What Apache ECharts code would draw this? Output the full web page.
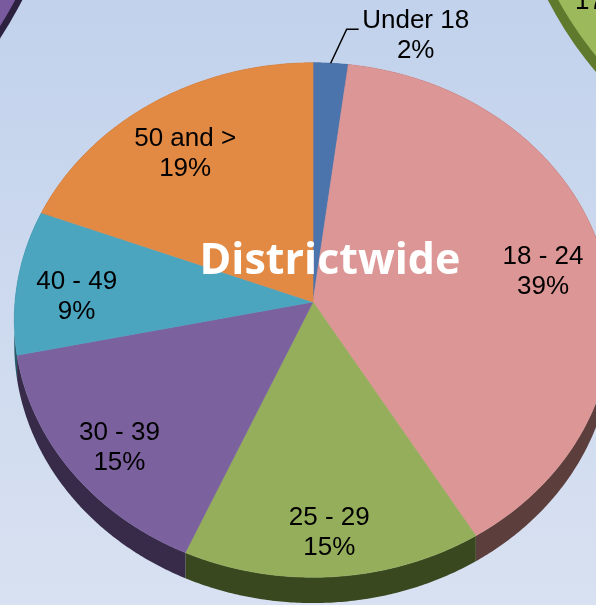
<!DOCTYPE html>
<html><head><meta charset="utf-8">
<script src="https://cdn.jsdelivr.net/npm/echarts@6/dist/echarts.min.js"></script>
<style>html,body{margin:0;padding:0;overflow:hidden;}#c{width:596px;height:605px;}</style>
</head><body><div id="c"></div>
<script>
// ---- data ----
const categories = ['Under 18', '18 - 24', '25 - 29', '30 - 39', '40 - 49', '50 and >'];
const percents = [2, 39, 15, 15, 9, 19];
const chartTitle = 'Districtwide';
const neighbourLabel = '17';

// ---- styles ----
const faceColors = ['#4a74ab', '#dc9695', '#95ae5b', '#7b619e', '#4ba5bf', '#e28a44'];
const sideColors = ['#2a4264', '#5c3f3d', '#3a4820', '#382b4a', '#265b69', '#7a4a22'];

// perspective projection of the pie disc
const P = { ax: 313, ay: 302, rx: 298, ry: 256, k: 0.07, j: 0, depth: 24 };
function rim(theta) {
  const t = theta * Math.PI / 180;
  const u = Math.sin(t), v = -Math.cos(t);
  const w = 1 - P.k * v + P.j * u;
  return [P.ax + P.rx * u / w, P.ay + P.ry * v / w, w];
}
const total = percents.reduce((a, b) => a + b, 0);
const starts = [], ends = [];
(function () { let c = 0; percents.forEach(v => { starts.push(c / total * 360); c += v; ends.push(c / total * 360); }); })();

function arcPts(i) {
  const a0 = starts[i], a1 = ends[i];
  const n = Math.max(4, Math.ceil((a1 - a0) * 2));
  const pts = [];
  for (let s = 0; s <= n; s++) pts.push(rim(a0 + (a1 - a0) * s / n));
  return pts;
}

const seriesData = percents.map((v, i) => ({ name: categories[i], value: v }));
const font = '"Liberation Sans", Arial, sans-serif';

const chart = echarts.init(document.getElementById('c'), null, { renderer: 'canvas' });
chart.setOption({
  animation: false,
  backgroundColor: {
    type: 'linear', x: 0, y: 0, x2: 0, y2: 1,
    colorStops: [{ offset: 0, color: '#c2d2ec' }, { offset: 1, color: '#d8e1f1' }]
  },
  graphic: [
    // neighbouring pie (top-left)
    { type: 'circle', x: -260, y: -220, scaleY: 1.233, shape: { cx: 0, cy: 0, r: 334 }, style: { fill: '#2d2140' }, z: 0 },
    { type: 'circle', x: -264, y: -226, scaleY: 1.233, shape: { cx: 0, cy: 0, r: 334 }, style: { fill: '#7a5a9f' }, z: 0 },
    // neighbouring pie (top-right)
    { type: 'circle', x: 800, y: -220, scaleY: 1.296, shape: { cx: 0, cy: 0, r: 304 }, style: { fill: '#5f792d' }, z: 0 },
    { type: 'circle', x: 805, y: -230, scaleY: 1.296, shape: { cx: 0, cy: 0, r: 304 }, style: { fill: '#9cba5c' }, z: 0 },
    { type: 'text', x: 575, y: 15, style: { text: neighbourLabel, font: '26px ' + font, fill: '#000', textAlign: 'left', textVerticalAlign: 'bottom' }, z: 1 },
    // title
    { type: 'text', x: 330, y: 262, z: 100,
      style: { text: chartTitle, fill: '#ffffff', font: 'bold 43px "Open Sans", sans-serif', textAlign: 'center', textVerticalAlign: 'middle' } }
  ],
  series: [
    { // side walls
      type: 'custom', coordinateSystem: 'none', z: 2, silent: true, data: seriesData,
      renderItem: function (params) {
        const i = params.dataIndex;
        const pts = arcPts(i);
        const top = pts.map(p => [p[0], p[1]]);
        const bot = pts.map(p => [p[0], p[1] + P.depth / p[2]]).reverse();
        return { type: 'polygon', shape: { points: top.concat(bot) }, style: { fill: sideColors[i] } };
      }
    },
    { // top faces
      type: 'custom', coordinateSystem: 'none', z: 3, silent: true, data: seriesData,
      renderItem: function (params) {
        const i = params.dataIndex;
        const pts = [[P.ax, P.ay]].concat(arcPts(i).map(p => [p[0], p[1]]));
        return { type: 'polygon', shape: { points: pts }, style: { fill: faceColors[i], stroke: faceColors[i], lineWidth: 0.6 } };
      }
    },
    { // labels
      type: 'custom', coordinateSystem: 'none', z: 4, silent: true, data: seriesData,
      renderItem: function (params, api) {
        const i = params.dataIndex;
        const v = api.value(0);
        const mid = (starts[i] + ends[i]) / 2;
        const p = rim(mid);
        const txt = categories[i] + '\n' + v + '%';
        const ts = { text: txt, fill: '#000', font: '26px ' + font, align: 'center', verticalAlign: 'middle', lineHeight: 30 };
        if (v < 5) {
          return { type: 'group', children: [
            { type: 'polyline', shape: { points: [[p[0], p[1]], [p[0] + 16, p[1] - 34], [p[0] + 28, p[1] - 34]] },
              style: { stroke: '#000', lineWidth: 1.5, fill: null } },
            { type: 'text', style: Object.assign({}, ts, { x: p[0] + 85, y: p[1] - 27 }) }
          ] };
        }
        const f = 0.8;
        return { type: 'text', style: Object.assign({}, ts, { x: P.ax + f * (p[0] - P.ax), y: P.ay + f * (p[1] - P.ay) + 11 }) };
      }
    }
  ]
});
</script>
</body></html>
